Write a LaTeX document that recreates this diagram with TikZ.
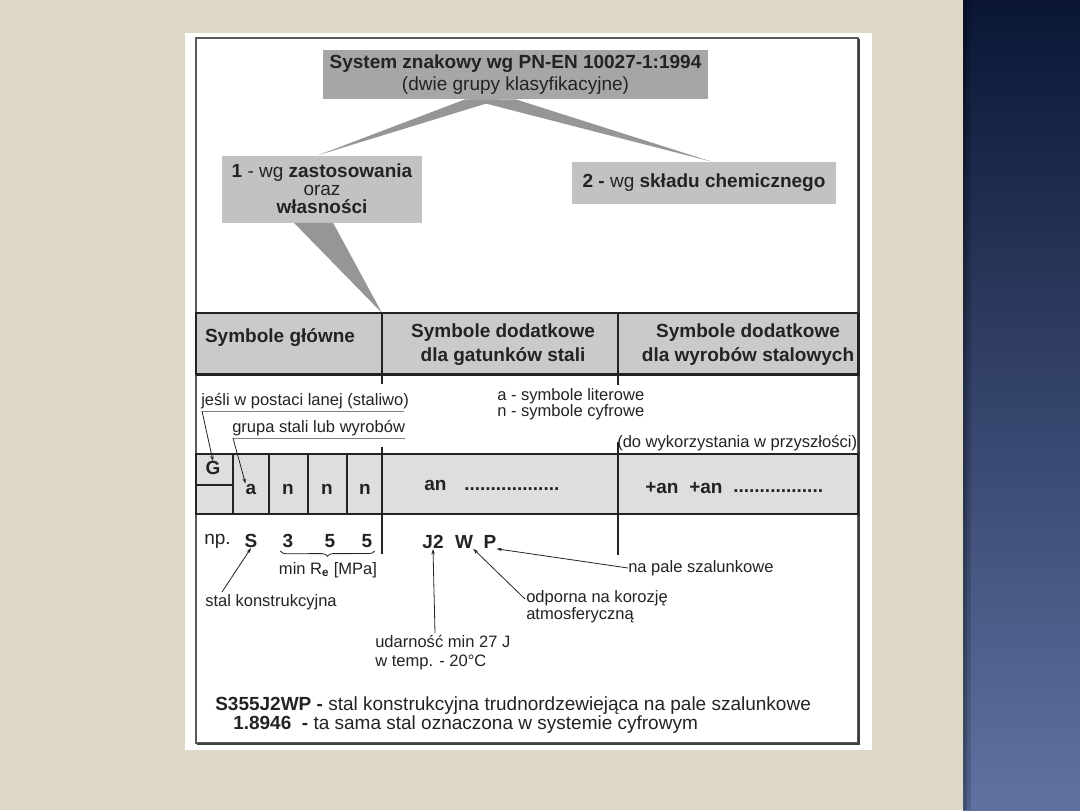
\documentclass[tikz,border=0pt]{standalone}
\usepackage{fontspec}
\setmainfont{Liberation Sans}
\usetikzlibrary{calc,arrows.meta,decorations.pathreplacing}
\definecolor{beige}{RGB}{221,217,198}
\definecolor{navytop}{RGB}{10,22,52}
\definecolor{navybot}{RGB}{96,114,162}
\definecolor{boxdark}{RGB}{166,166,166}
\definecolor{boxlight}{RGB}{194,194,194}
\definecolor{hdrfill}{RGB}{202,202,202}
\definecolor{rowfill}{RGB}{222,222,222}
\definecolor{wedgec}{RGB}{150,150,150}
\definecolor{ink}{RGB}{35,35,35}
\definecolor{framec}{RGB}{90,90,90}
\newcommand\szL{\fontsize{14.25pt}{16.5pt}\selectfont}
\newcommand\szS{\fontsize{12.4pt}{12pt}\selectfont}
\begin{document}
\begin{tikzpicture}[x=0.75pt,y=-0.75pt,
  big/.style={inner sep=0pt, text=ink, font=\szL},
  small/.style={inner sep=0pt, text=ink, font=\szS},
  gbox/.style={inner sep=0pt, text=ink, font=\szL, align=center},
  tabline/.style={draw=ink, line width=0.9pt},
  fineline/.style={draw=ink, line width=0.6pt},
  uline/.style={draw=gray, line width=0.6pt},
  lead/.style={draw=ink, line width=0.6pt, -{Stealth[length=4pt,width=2.6pt]}},
]
\useasboundingbox (0,0) rectangle (1080,810);
% background
\fill[beige] (0,0) rectangle (1080,810);
\shade[top color=navytop, bottom color=navybot] (963,0) rectangle (1080,810);
\fill[black, opacity=0.3] (963,0) rectangle (967,810);
\fill[black, opacity=0.15] (967,0) rectangle (971,810);
% white panel and frame
\fill[white] (185,33) rectangle (872,750);
\draw[framec, line width=0.9pt] (196,38) rectangle (858,743);
\draw[framec!70!black, line width=1.6pt] (197,744) -- (859,744) -- (859,39);

% top boxes
\node[gbox, fill=boxdark, minimum width=288.75pt, minimum height=36.75pt] (top) at (515.5,74.5)
  {\textbf{System znakowy wg PN-EN 10027-1:1994}\\(dwie grupy klasyfikacyjne)};
\node[gbox, fill=boxlight, minimum width=150pt, minimum height=50.25pt,
  font=\fontsize{14.25pt}{13.5pt}\selectfont] (g1) at (322,189)
  {\textbf{1} - wg \textbf{zastosowania}\\oraz\\\textbf{własności}};
\node[gbox, fill=boxlight, minimum width=198pt, minimum height=31.5pt] (g2) at (704,183)
  {\textbf{2 -} wg \textbf{składu chemicznego}};

% wedges
\fill[wedgec] ($(top.south west)!0.37!(top.south east)$) -- ($(top.south west)!0.46!(top.south east)$)
  -- ($(g1.north west)!0.48!(g1.north east)$) -- cycle;
\fill[wedgec] ($(top.south west)!0.38!(top.south east)$) -- ($(top.south west)!0.50!(top.south east)$)
  -- ($(g2.north west)!0.53!(g2.north east)$) -- cycle;
\coordinate (apex) at (382,313);
\fill[wedgec] ($(g1.south west)!0.36!(g1.south east)$) -- ($(g1.south west)!0.555!(g1.south east)$)
  -- (apex) -- cycle;

% header table
\filldraw[fill=hdrfill, tabline] (196,313) rectangle (858,374);
\draw[ink, line width=1.5pt] (196,374.5) -- (858.5,374.5) -- (858.5,313);
\draw[tabline] (382,313) -- (382,384);
\draw[tabline] (618,313) -- (618,385);
\node[big, font=\szL\bfseries] (h1) at (280,338) {Symbole główne};
\node[gbox, font=\fontsize{14.25pt}{18pt}\selectfont\bfseries] (h2) at (503,345)
  {Symbole dodatkowe\\dla gatunków stali};
\node[gbox, font=\fontsize{14.25pt}{18pt}\selectfont\bfseries] (h3) at (748,345)
  {Symbole dodatkowe\\dla wyrobów stalowych};

% symbol row
\filldraw[fill=rowfill, tabline] (196,454) rectangle (858,514);
\draw[tabline] (382,447) -- (382,554);
\draw[tabline] (618,442) -- (618,555);
\foreach \xx in {233,269,308,347} \draw[tabline] (\xx,454) -- (\xx,514);
\draw[tabline] (196,485) -- (233,485);
\node[big, font=\szL\bfseries] (G) at (213,468) {G};
\node[big, font=\szL\bfseries] (ca) at (251,489) {a};
\node[big, font=\szL\bfseries] (cn1) at (288,489) {n};
\node[big, font=\szL\bfseries] (cn2) at (327,489) {n};
\node[big, font=\szL\bfseries] (cn3) at (365,489) {n};
\node[big, font=\szL\bfseries, anchor=west] (an) at (424,485) {an};
\node[big, font=\szL\bfseries, anchor=west] (dots1) at (464,489) {..................};
\node[big, font=\szL\bfseries, anchor=west] (pan1) at (645,488) {+an};
\node[big, font=\szL\bfseries, anchor=west] (pan2) at (689,488) {+an};
\node[big, font=\szL\bfseries, anchor=west] (dots2) at (733,491) {.................};

% annotations above the row
\node[small, anchor=west] (jesli) at (201,401) {jeśli w postaci lanej (staliwo)};
\draw[uline] (jesli.south west) ++(1,2) coordinate (jA) -- ($(jesli.south east)+(-5,2)$);
\draw[lead] (jA) -- (G.north);
\node[small, anchor=west] (grupa) at (232,428) {grupa stali lub wyrobów};
\draw[uline] (grupa.south west) ++(1,2) coordinate (gA) -- ($(grupa.south east)+(0,2)$);
\draw[lead] (gA) -- (ca.north west);
\node[small, anchor=west, align=left, font=\fontsize{12.4pt}{12pt}\selectfont] (legend) at (497,404)
  {a - symbole literowe\\n - symbole cyfrowe};
\node[small, anchor=west] (future) at (617,443) {(do wykorzystania w przyszłości)};

% example
\node[big, anchor=west] (np) at (204,541) {np.};
\node[big, font=\szL\bfseries] (S) at (251,541) {S};
\node[big, font=\szL\bfseries] (d3) at (288,541) {3};
\node[big, font=\szL\bfseries] (d5a) at (330,541) {5};
\node[big, font=\szL\bfseries] (d5b) at (367,541) {5};
\draw[fineline, decorate, decoration={brace, mirror, amplitude=4pt}]
  ($(d3.south west)+(-2,3)$) -- ($(d5b.south east)+(2,3)$);
\node[small] (minre) at (328,570) {min R\textsubscript{\textbf{e}} [MPa]};
\node[small, anchor=west] (stalk) at (205,602) {stal konstrukcyjna};
\draw[lead] ($(stalk.north west)+(17,-2)$) -- (S.south);

\node[big, font=\szL\bfseries] (J2) at (433,542) {J2};
\node[big, font=\szL\bfseries] (W) at (464,542) {W};
\node[big, font=\szL\bfseries] (P) at (490,542) {P};
\node[small, anchor=north west, align=left, font=\fontsize{12.4pt}{14.3pt}\selectfont] (udar) at (375,635)
  {udarność min 27 J\\w temp. - 20°C};
\draw[lead] ($(udar.north west)+(60,-2)$) -- (J2.south);
\node[small, anchor=west, align=left, font=\fontsize{12.4pt}{12.75pt}\selectfont] (odp) at (526,607)
  {odporna na korozję\\atmosferyczną};
\coordinate (odpA) at (525,599);
\draw[lead] (odpA) -- (W.south east);
\node[small, anchor=west] (nap) at (628,568) {na pale szalunkowe};
\draw[lead] (nap.west) -- (P.south east);

% summary
\node[big, anchor=west] (sum1) at (215,706)
  {\textbf{S355J2WP -} stal konstrukcyjna trudnordzewiejąca na pale szalunkowe};
\node[big, anchor=west] (sum2) at (233,725)
  {\textbf{1.8946} \ \textbf{-} ta sama stal oznaczona w systemie cyfrowym};
\end{tikzpicture}
\end{document}
